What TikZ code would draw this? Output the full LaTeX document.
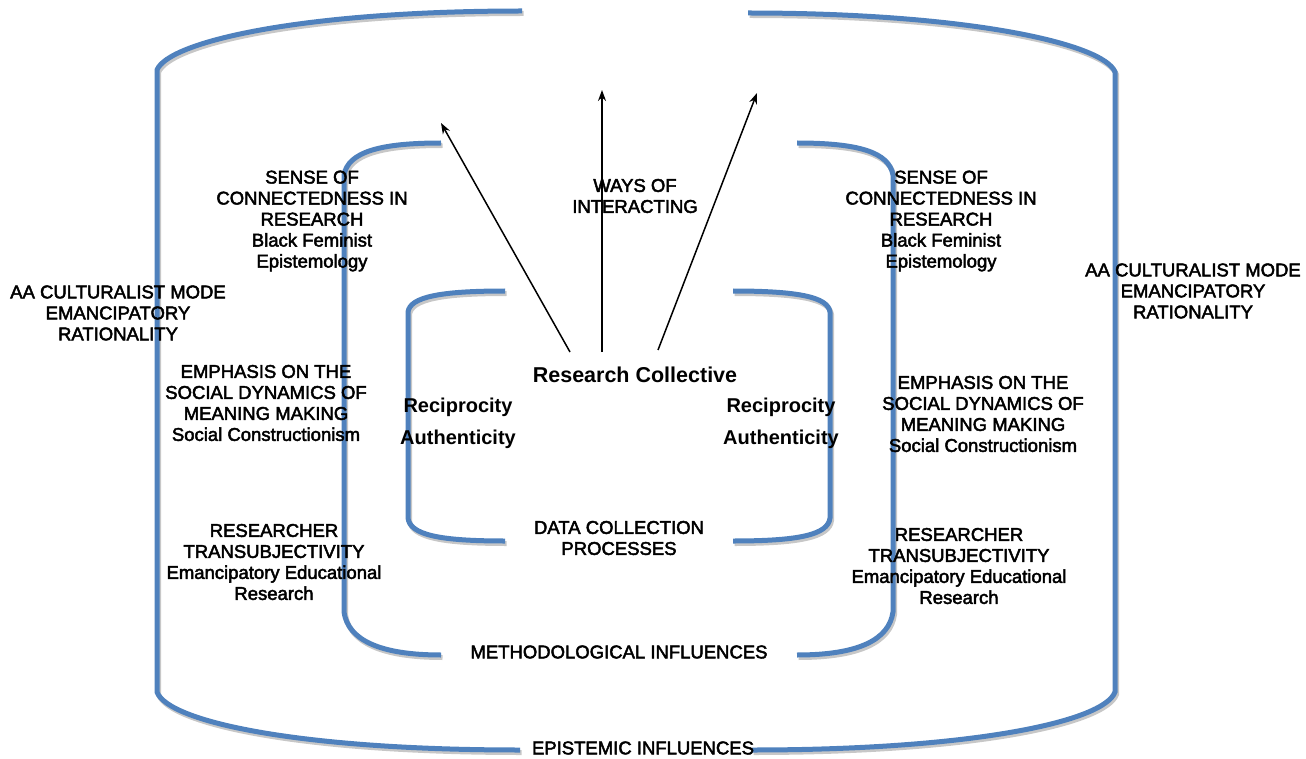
\documentclass[tikz,border=0pt]{standalone}
\usepackage{fontspec}
\setmainfont{Liberation Sans}
\newfontfamily\medfont{Liberation Sans}[RawFeature={embolden=2.5}]
\usetikzlibrary{arrows.meta}
\definecolor{bracketblue}{RGB}{79,129,189}
\tikzset{
  bracket/.style={draw=bracketblue, line width=5pt, line cap=butt,
    preaction={draw=black!22, line width=5pt, transform canvas={xshift=1.5pt,yshift=-2.5pt}}},
  lbl/.style={align=center, inner sep=0pt, font=\medfont\fontsize{18.5}{21}\selectfont},
  blbl/.style={align=center, inner sep=0pt, font=\fontsize{20}{22}\selectfont\bfseries},
  arr/.style={draw=black, line width=1.5pt, -{Stealth[length=11pt,width=8pt]}}
}
\begin{document}
\begin{tikzpicture}[x=1pt,y=-1pt]
\useasboundingbox (0,0) rectangle (1306,759);
% outer brackets
\draw[bracket] (522,11) .. controls (300,11) and (168,42) .. (157,70) -- (157,692) .. controls (168,722) and (300,750) .. (520,750);
\draw[bracket] (748,13) .. controls (970,13) and (1104,44) .. (1115,72) -- (1115,692) .. controls (1104,722) and (970,750) .. (752,750);
% middle brackets
\draw[bracket] (441,143) .. controls (380,143) and (348,152) .. (344,175) -- (344,612) .. controls (348,640) and (380,655) .. (441,655);
\draw[bracket] (797,143) .. controls (858,143) and (889,152) .. (893,175) -- (893,612) .. controls (889,640) and (858,655) .. (797,655);
% inner brackets
\draw[bracket] (505,291) .. controls (440,291) and (410,297) .. (408,312) -- (408,518) .. controls (410,535) and (440,541) .. (505,541);
\draw[bracket] (733,291) .. controls (798,291) and (828,297) .. (830,312) -- (830,518) .. controls (828,535) and (798,541) .. (733,541);

% labels
\node[lbl] (ways) at (635,196) {WAYS OF\\INTERACTING};
\node[lbl] (senseL) at (312,221) {SENSE OF\\CONNECTEDNESS IN\\RESEARCH\\Black Feminist\\Epistemology};
\node[lbl] (senseR) at (941,221) {SENSE OF\\CONNECTEDNESS IN\\RESEARCH\\Black Feminist\\Epistemology};
\node[lbl] (aaL) at (118,313) {AA CULTURALIST MODE\\EMANCIPATORY\\RATIONALITY};
\node[lbl] (aaR) at (1193,291) {AA CULTURALIST MODE\\EMANCIPATORY\\RATIONALITY};
\node[lbl] (empL) at (266,403) {EMPHASIS ON THE\\SOCIAL DYNAMICS OF\\MEANING MAKING\\Social Constructionism};
\node[lbl] (empR) at (983,414) {EMPHASIS ON THE\\SOCIAL DYNAMICS OF\\MEANING MAKING\\Social Constructionism};
\node[lbl] (resL) at (274,562) {RESEARCHER\\TRANSUBJECTIVITY\\Emancipatory Educational\\Research};
\node[lbl] (resR) at (959,566) {RESEARCHER\\TRANSUBJECTIVITY\\Emancipatory Educational\\Research};
\node[blbl, font=\fontsize{21.5}{24}\selectfont\bfseries] (rc) at (635,375) {Research Collective};
\node[blbl] (recL) at (458,407) {Reciprocity};
\node[blbl] (authL) at (458,439) {Authenticity};
\node[blbl] (recR) at (781,407) {Reciprocity};
\node[blbl] (authR) at (781,439) {Authenticity};
\node[lbl] (data) at (619,538) {DATA COLLECTION\\PROCESSES};
\node[lbl] (meth) at (619,652) {METHODOLOGICAL INFLUENCES};
\node[lbl] (epi) at (643,748) {EPISTEMIC INFLUENCES};

% arrows
\coordinate (s1) at (570,352);
\coordinate (s2) at (602,352);
\coordinate (s3) at (658,350);
\coordinate (t1) at (441,123);
\coordinate (t2) at (602,90);
\coordinate (t3) at (757,93);
\draw[arr] (s1) -- (t1);
\draw[arr] (s2) -- (t2);
\draw[arr] (s3) -- (t3);
\end{tikzpicture}
\end{document}
